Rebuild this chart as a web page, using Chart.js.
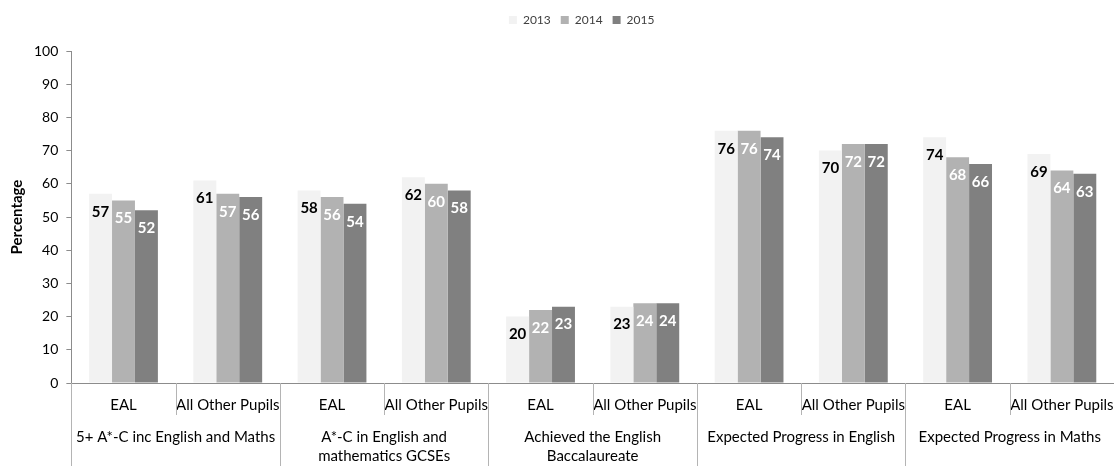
<!DOCTYPE html>
<html>
<head>
<meta charset="utf-8">
<script src="https://cdn.jsdelivr.net/npm/chart.js@4"></script>
<style>
  html, body { margin: 0; padding: 0; background: #fff; }
  #wrap { width: 1114px; height: 466px; }
</style>
</head>
<body>
<div id="wrap"><canvas id="chart"></canvas></div>
<script>
// values
const subLabels = ['EAL', 'All Other Pupils', 'EAL', 'All Other Pupils', 'EAL', 'All Other Pupils',
  'EAL', 'All Other Pupils', 'EAL', 'All Other Pupils'];
const groupLabels = [
  '5+ A*-C inc English and Maths',
  ['A*-C in English and', 'mathematics GCSEs'],
  ['Achieved the English', 'Baccalaureate'],
  'Expected Progress in English',
  'Expected Progress in Maths'
];
const years = ['2013', '2014', '2015'];
const values2013 = [57, 61, 58, 62, 20, 23, 76, 70, 74, 69];
const values2014 = [55, 57, 56, 60, 22, 24, 76, 72, 68, 64];
const values2015 = [52, 56, 54, 58, 23, 24, 74, 72, 66, 63];
const yTicks = [0, 10, 20, 30, 40, 50, 60, 70, 80, 90, 100];

const FONT = 'Lato, "Liberation Sans", sans-serif';
const barColors = ['#f2f2f2', '#b2b2b2', '#808080'];
const labelColors = ['#000000', '#ffffff', '#ffffff'];
const axisColor = '#8c8c8c';

// bar value labels, just inside the top of each bar
const valueLabels = {
  id: 'valueLabels',
  afterDatasetsDraw(chart) {
    const ctx = chart.ctx;
    ctx.save();
    ctx.font = 'bold 15px ' + FONT;
    ctx.textAlign = 'center';
    ctx.textBaseline = 'middle';
    chart.data.datasets.forEach((ds, i) => {
      const meta = chart.getDatasetMeta(i);
      ctx.fillStyle = labelColors[i];
      meta.data.forEach((bar, j) => {
        ctx.fillText(String(ds.data[j]), bar.x, bar.y + 18);
      });
    });
    ctx.restore();
  }
};

// category dividers below the axis (short between sub categories, long between groups)
const dividers = {
  id: 'dividers',
  afterDraw(chart) {
    const x = chart.scales.x;
    const ctx = chart.ctx;
    ctx.save();
    ctx.strokeStyle = '#b4b4b4';
    ctx.lineWidth = 1;
    for (let i = 0; i < subLabels.length; i++) {
      const px = Math.round(x.getPixelForValue(i - 0.5)) + 0.5;
      const bottom = (i % 2 === 0) ? chart.height : x.top + 32;
      ctx.beginPath();
      ctx.moveTo(px, x.top);
      ctx.lineTo(px, bottom);
      ctx.stroke();
    }
    ctx.restore();
  }
};

// extra room under the legend, and legend nudged right like the original
const legendSpace = {
  id: 'legendSpace',
  beforeInit(chart) {
    const fit = chart.legend.fit;
    chart.legend.fit = function () {
      fit.bind(chart.legend)();
      this.height += 15;
    };
  },
  beforeDraw(chart) {
    const shift = (chart.chartArea.left + chart.chartArea.right) / 2 - chart.width / 2 - 11;
    chart.legend.left = shift;
    chart.legend.right = chart.width + shift;
  }
};

new Chart(document.getElementById('chart'), {
  type: 'bar',
  data: {
    labels: subLabels,
    datasets: [
      { label: years[0], data: values2013, backgroundColor: barColors[0] },
      { label: years[1], data: values2014, backgroundColor: barColors[1] },
      { label: years[2], data: values2015, backgroundColor: barColors[2] }
    ]
  },
  options: {
    responsive: true,
    maintainAspectRatio: false,
    animation: false,
    categoryPercentage: 0.66,
    barPercentage: 1.0,
    layout: { padding: { top: 4, right: 0, left: 4, bottom: 0 } },
    plugins: {
      legend: {
        position: 'top',
        labels: {
          boxWidth: 8, boxHeight: 8, padding: 10,
          color: '#404040',
          font: { family: FONT, size: 12 }
        }
      },
      tooltip: { enabled: false }
    },
    scales: {
      x: {
        position: 'bottom',
        offset: true,
        grid: { display: false, drawTicks: false },
        border: { display: true, color: axisColor },
        ticks: {
          color: '#000', padding: 0, maxRotation: 0, autoSkip: false,
          font: { family: FONT, size: 15, lineHeight: '44px' }
        }
      },
      x2: {
        type: 'category',
        position: 'bottom',
        labels: groupLabels,
        offset: true,
        grid: { display: false, drawTicks: false },
        border: { display: false },
        ticks: {
          color: '#000', padding: 0, maxRotation: 0, autoSkip: false,
          font: { family: FONT, size: 15, lineHeight: 1.3 }
        }
      },
      y: {
        min: 0, max: 100,
        afterBuildTicks(scale) { scale.ticks = yTicks.map(v => ({ value: v })); },
        grid: { drawOnChartArea: false, tickLength: 5, color: axisColor },
        border: { color: axisColor },
        ticks: { color: '#000', padding: 8, font: { family: FONT, size: 14 } },
        title: {
          display: true, text: 'Percentage', color: '#000',
          padding: { top: 4, bottom: 0 },
          font: { family: FONT, size: 15, weight: 'bold' }
        }
      }
    }
  },
  plugins: [valueLabels, dividers, legendSpace]
});
</script>
</body>
</html>
